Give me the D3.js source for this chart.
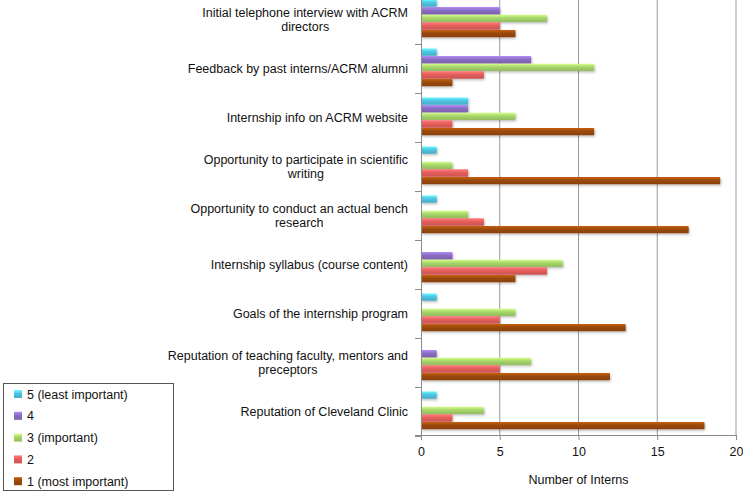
<!DOCTYPE html>
<html><head><meta charset="utf-8">
<script src="https://cdn.jsdelivr.net/npm/d3@7"></script>
<style>body{margin:0;background:#fff}svg{display:block;font-family:"Liberation Sans",Arial,sans-serif}</style>
</head><body><svg id="c" width="743" height="494"></svg>
<script>
const categories = [
  "Initial telephone interview with ACRM|directors",
  "Feedback by past interns/ACRM alumni",
  "Internship info on ACRM website",
  "Opportunity to participate in scientific|writing",
  "Opportunity to conduct an actual bench|research",
  "Internship syllabus (course content)",
  "Goals of the internship program",
  "Reputation of teaching faculty, mentors and|preceptors",
  "Reputation of Cleveland Clinic"
];
const seriesNames = ["5 (least important)", "4", "3 (important)", "2", "1 (most important)"];
const s5 = [1, 1, 3, 1, 1, 0, 1, 0, 1];
const s4 = [5, 7, 3, 0, 0, 2, 0, 1, 0];
const s3 = [8, 11, 6, 2, 3, 9, 6, 7, 4];
const s2 = [5, 4, 2, 3, 4, 8, 5, 5, 2];
const s1 = [6, 2, 11, 19, 17, 6, 13, 12, 18];
const seriesValues = [s5, s4, s3, s2, s1];
const xTicks = [0, 5, 10, 15, 20];
const colors = ["#4fc4e2", "#8b6dc3", "#a6d56a", "#e55e5c", "#9a4a0a"];

const svg = d3.select("#c");
const L = 421, R = 736, T = -6, B = 435;
const x = d3.scaleLinear().domain([0, 20]).range([L, R]);
const y = d3.scaleBand().domain(d3.range(categories.length)).range([T, B]).paddingInner(0.22).paddingOuter(0.11);
const yi = d3.scaleBand().domain(d3.range(seriesNames.length)).range([0, y.bandwidth()]).padding(0);

const defs = svg.append("defs");
colors.forEach((c, i) => {
  const g = defs.append("linearGradient").attr("id", "g" + i).attr("x1", 0).attr("y1", 0).attr("x2", 0).attr("y2", 1);
  g.append("stop").attr("offset", "0%").attr("stop-color", d3.color(c).brighter(0.7));
  g.append("stop").attr("offset", "45%").attr("stop-color", c);
  g.append("stop").attr("offset", "100%").attr("stop-color", d3.color(c).darker(0.35));
});
const f = defs.append("filter").attr("id", "sh").attr("x", "-5%").attr("y", "-30%").attr("width", "120%").attr("height", "180%");
f.append("feDropShadow").attr("dx", 1).attr("dy", 1.5).attr("stdDeviation", 1).attr("flood-color", "#000").attr("flood-opacity", 0.25);

// gridlines
svg.append("g").selectAll("line").data(xTicks.slice(1)).join("line")
  .attr("x1", d => x(d)).attr("x2", d => x(d)).attr("y1", 0).attr("y2", B)
  .attr("stroke", "#9a9a9a").attr("stroke-width", 1);

// bars
const groups = svg.append("g").selectAll("g").data(categories).join("g")
  .attr("transform", (d, i) => `translate(0,${y(i)})`);
groups.each(function(cat, ci) {
  d3.select(this).selectAll("rect").data(seriesValues.map((s, si) => ({si, v: s[ci]})).filter(d => d.v > 0)).join("rect")
    .attr("x", x(0)).attr("y", d => yi(d.si)).attr("height", yi.bandwidth() - 0.3)
    .attr("width", d => x(d.v) - x(0)).attr("rx", 1)
    .attr("fill", d => `url(#g${d.si})`).attr("filter", "url(#sh)");
});

// y axis line and ticks
svg.append("line").attr("x1", L + 0.5).attr("x2", L + 0.5).attr("y1", 0).attr("y2", B).attr("stroke", "#8a8a8a");
svg.append("g").selectAll("line").data(d3.range(1, categories.length + 1)).join("line")
  .attr("x1", L - 6).attr("x2", L).attr("y1", i => Math.round(y(i - 1) + y.step() * (1 - 0.11) + 0.5) + 0.5 - 0)
  .attr("y2", i => Math.round(y(i - 1) + y.step() * (1 - 0.11) + 0.5) + 0.5)
  .attr("stroke", "#8a8a8a");

// x axis
const xa = svg.append("g").attr("transform", `translate(0,${B})`)
  .call(d3.axisBottom(x).tickValues(xTicks).tickSize(5).tickPadding(7));
xa.select(".domain").attr("d", `M${L - 6},0.5H${R + 0.5}`).attr("stroke", "#8a8a8a");
xa.selectAll(".tick line").attr("stroke", "#8a8a8a");
xa.selectAll("text").attr("font-size", 12.5).attr("fill", "#111").attr("font-family", "Liberation Sans, Arial, sans-serif");

svg.append("text").attr("x", x(10)).attr("y", 484).attr("text-anchor", "middle")
  .attr("font-size", 12.5).attr("fill", "#111").text("Number of Interns");

// category labels
const labelRight = 408;
categories.forEach((c, i) => {
  const lines = c.split("|");
  const g = svg.append("g");
  const ts = lines.map(l => g.append("text").attr("font-size", 12.5).attr("fill", "#111").attr("text-anchor", "middle").text(l));
  const maxW = d3.max(ts, t => t.node().getComputedTextLength());
  const cx = labelRight - maxW / 2;
  const cy = y(i) + y.bandwidth() / 2 + 1;
  const lh = 14;
  ts.forEach((t, k) => t.attr("x", cx).attr("y", cy - (lines.length - 1) * lh / 2 + k * lh + 4.5));
});

// legend
const lg = svg.append("g");
lg.append("rect").attr("x", 3.5).attr("y", 383.5).attr("width", 170).attr("height", 107).attr("fill", "#fff").attr("stroke", "#555");
seriesNames.forEach((n, i) => {
  const yy = 394 + i * 21.8;
  lg.append("rect").attr("x", 14).attr("y", yy - 4).attr("width", 8).attr("height", 8).attr("fill", `url(#g${i})`);
  lg.append("text").attr("x", 27).attr("y", yy + 4.5).attr("font-size", 12.5).attr("fill", "#111").text(n);
});
</script></body></html>
